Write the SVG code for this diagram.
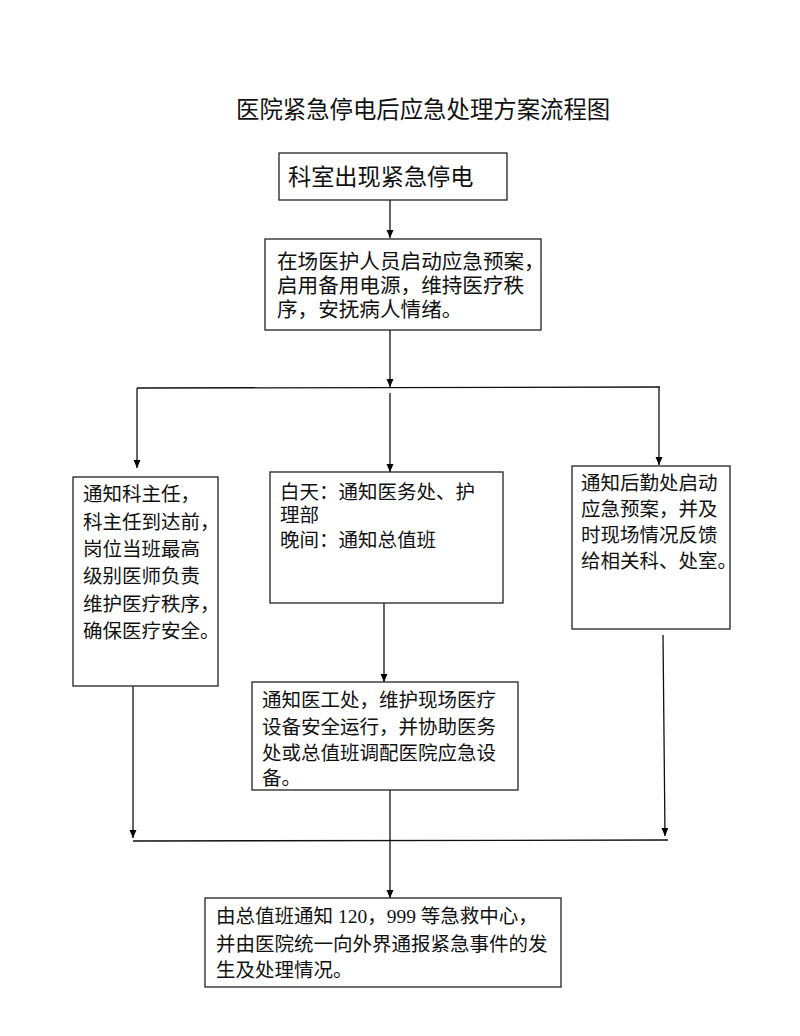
<svg xmlns="http://www.w3.org/2000/svg" width="800" height="1036" viewBox="0 0 800 1036">
<defs>
<marker id="arr" markerUnits="userSpaceOnUse" markerWidth="8" markerHeight="8" refX="8" refY="3.5" orient="auto">
<path d="M0,0 L8,3.5 L0,7 z" fill="#000"/>
</marker>
<style>
.box{fill:#fff;stroke:#222;stroke-width:1.3}
.t{font-family:"Liberation Serif","Noto Sans CJK SC",serif;font-size:19.5px;fill:#111}
.title{font-family:"Noto Sans CJK SC",sans-serif;font-size:23.4px;fill:#111}
.c{stroke:#111;stroke-width:1.3;fill:none}
.a{marker-end:url(#arr)}
</style>
</defs>
<rect width="800" height="1036" fill="#fff"/>
<text class="title" x="236" y="118">医院紧急停电后应急处理方案流程图</text>

<g id="connectors">
<line class="c a" x1="390" y1="200" x2="390" y2="238"/>
<line class="c a" x1="390" y1="330" x2="390" y2="387"/>
<line class="c" x1="137" y1="388" x2="660" y2="387"/>
<line class="c a" x1="137" y1="388" x2="137" y2="468"/>
<line class="c a" x1="390" y1="393" x2="390" y2="472"/>
<line class="c a" x1="659" y1="387" x2="659" y2="465"/>
<line class="c a" x1="384" y1="603" x2="384" y2="682"/>
<line class="c a" x1="133" y1="686" x2="133" y2="838"/>
<line class="c a" x1="663" y1="635" x2="665" y2="836"/>
<line class="c" x1="133" y1="841" x2="668" y2="840"/>
<line class="c a" x1="390" y1="790" x2="390" y2="898"/>
</g>

<g id="n1">
<rect class="box" x="279" y="153" width="228" height="47"/>
<text class="t" style="font-size:23.2px" x="288" y="185">科室出现紧急停电</text>
</g>

<g id="n2">
<rect class="box" x="265" y="239" width="276" height="91"/>
<text class="t" style="font-size:20.6px" x="277" y="269">在场医护人员启动应急预案，</text>
<text class="t" style="font-size:20.6px" x="277" y="293">启用备用电源，维持医疗秩</text>
<text class="t" style="font-size:20.6px" x="277" y="317">序，安抚病人情绪。</text>
</g>

<g id="n3">
<rect class="box" x="73" y="477" width="145" height="209"/>
<text class="t" x="83" y="501">通知科主任，</text>
<text class="t" x="83" y="529">科主任到达前，</text>
<text class="t" x="83" y="556">岗位当班最高</text>
<text class="t" x="83" y="583">级别医师负责</text>
<text class="t" x="83" y="611">维护医疗秩序，</text>
<text class="t" x="83" y="638">确保医疗安全。</text>
</g>

<g id="n4">
<rect class="box" x="270" y="472" width="233" height="131"/>
<text class="t" x="280" y="499">白天：通知医务处、护</text>
<text class="t" x="280" y="522">理部</text>
<text class="t" x="280" y="547">晚间：通知总值班</text>
</g>

<g id="n5">
<rect class="box" x="572" y="466" width="158" height="163"/>
<text class="t" x="581" y="490">通知后勤处启动</text>
<text class="t" x="581" y="516">应急预案，并及</text>
<text class="t" x="581" y="542">时现场情况反馈</text>
<text class="t" x="581" y="568">给相关科、处室。</text>
</g>

<g id="n6">
<rect class="box" x="252" y="682" width="266" height="108"/>
<text class="t" x="262" y="707">通知医工处，维护现场医疗</text>
<text class="t" x="262" y="734">设备安全运行，并协助医务</text>
<text class="t" x="262" y="760">处或总值班调配医院应急设</text>
<text class="t" x="262" y="785">备。</text>
</g>

<g id="n7">
<rect class="box" x="205" y="898" width="356" height="89"/>
<text class="t" x="216" y="923">由总值班通知 120，999 等急救中心，</text>
<text class="t" x="216" y="951">并由医院统一向外界通报紧急事件的发</text>
<text class="t" x="216" y="977">生及处理情况。</text>
</g>
</svg>
